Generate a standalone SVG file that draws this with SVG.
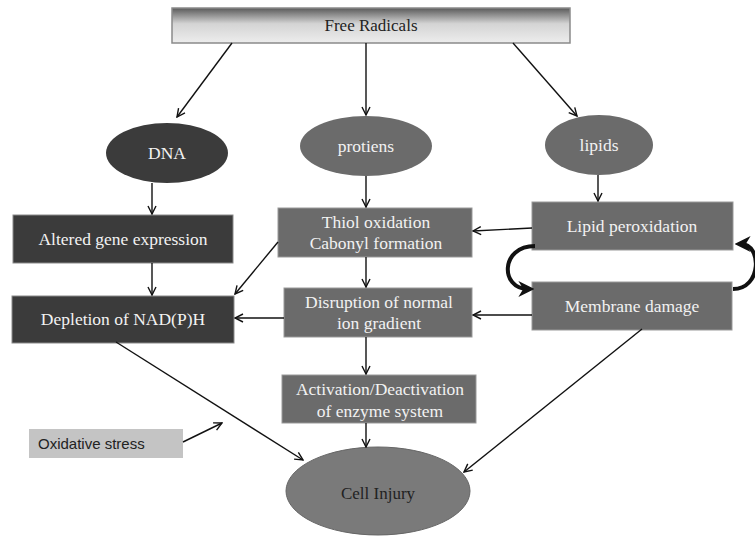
<svg xmlns="http://www.w3.org/2000/svg" width="755" height="536" viewBox="0 0 755 536">
<defs>
<linearGradient id="frg" x1="0" y1="0" x2="0" y2="1">
<stop offset="0" stop-color="#5a5a5a"/>
<stop offset="0.45" stop-color="#d4d4d4"/>
<stop offset="1" stop-color="#ededed"/>
</linearGradient>
<marker id="ah" viewBox="0 0 10 10" refX="9" refY="5" markerWidth="10" markerHeight="10" markerUnits="userSpaceOnUse" orient="auto">
<path d="M1,1 L9,5 L1,9" fill="none" stroke="#111" stroke-width="1.4"/>
</marker>
<marker id="thk" viewBox="0 0 10 10" refX="6" refY="5" markerWidth="4" markerHeight="4" orient="auto">
<path d="M0,0 L10,5 L0,10 L3,5 Z" fill="#111"/>
</marker>
</defs>
<style>
.dark{fill:#3b3b3b;stroke:#8a8a8a;stroke-width:1}
.mid{fill:#6b6b6b;stroke:#999;stroke-width:1}
.lt{font-family:"Liberation Serif","Times New Roman",serif;font-size:17.5px;fill:#f2f2f2;text-anchor:middle}
.dt{font-family:"Liberation Serif","Times New Roman",serif;font-size:17px;fill:#222;text-anchor:middle}
.c line{stroke:#111;stroke-width:1.4;fill:none;marker-end:url(#ah)}
.c path.k{stroke:#111;stroke-width:4;fill:none;marker-end:url(#thk)}
</style>
<rect width="755" height="536" fill="#fff"/>
<g id="free-radicals">
<rect x="172" y="8" width="398" height="35" fill="url(#frg)" stroke="#8a8a8a" stroke-width="1.5"/>
<text class="dt" x="371" y="31" font-size="16.5">Free Radicals</text>
</g>
<g id="dna">
<ellipse cx="167" cy="153" rx="61" ry="30" fill="#3b3b3b"/>
<text class="lt" x="167" y="159">DNA</text>
</g>
<g id="protiens">
<ellipse cx="366" cy="146" rx="66" ry="30" fill="#6b6b6b"/>
<text class="lt" x="366" y="152">protiens</text>
</g>
<g id="lipids">
<ellipse cx="599" cy="145" rx="54" ry="30" fill="#6b6b6b"/>
<text class="lt" x="599" y="151">lipids</text>
</g>
<g id="altered">
<rect class="dark" x="13" y="215" width="220" height="48"/>
<text class="lt" x="123" y="245">Altered gene expression</text>
</g>
<g id="depletion">
<rect class="dark" x="12" y="296" width="222" height="47"/>
<text class="lt" x="123" y="325">Depletion of NAD(P)H</text>
</g>
<g id="thiol">
<rect class="mid" x="278" y="208" width="194" height="49"/>
<text class="lt" x="376" y="228">Thiol oxidation</text>
<text class="lt" x="376" y="249">Cabonyl formation</text>
</g>
<g id="disruption">
<rect class="mid" x="284" y="288" width="188" height="49"/>
<text class="lt" x="379" y="308">Disruption of normal</text>
<text class="lt" x="379" y="329">ion gradient</text>
</g>
<g id="activation">
<rect class="mid" x="282" y="375" width="194" height="48"/>
<text class="lt" x="380" y="395">Activation/Deactivation</text>
<text class="lt" x="380" y="417">of enzyme system</text>
</g>
<g id="lipid-peroxidation">
<rect class="mid" x="532" y="202" width="201" height="48"/>
<text class="lt" x="632" y="232">Lipid peroxidation</text>
</g>
<g id="membrane-damage">
<rect class="mid" x="532" y="282" width="200" height="48"/>
<text class="lt" x="632" y="312">Membrane damage</text>
</g>
<g id="oxidative-stress">
<rect x="29" y="429" width="154" height="29" fill="#c4c4c4"/>
<text x="38" y="449" font-family="'Liberation Sans Narrow','Liberation Sans',Arial,sans-serif" font-size="15" fill="#222">Oxidative stress</text>
</g>
<g id="cell-injury">
<ellipse cx="378" cy="491" rx="92" ry="44" fill="#7a7a7a" stroke="#666" stroke-width="1"/>
<text class="dt" x="378" y="499">Cell Injury</text>
</g>
<g id="connectors" class="c">
<line x1="232" y1="43" x2="177" y2="117"/>
<line x1="366" y1="43" x2="366" y2="115"/>
<line x1="513" y1="43" x2="577" y2="116"/>
<line x1="152" y1="183" x2="152" y2="214"/>
<line x1="152" y1="263" x2="152" y2="295"/>
<line x1="366" y1="176" x2="366" y2="207"/>
<line x1="366" y1="257" x2="366" y2="287"/>
<line x1="366" y1="337" x2="366" y2="374"/>
<line x1="366" y1="423" x2="366" y2="447"/>
<line x1="598" y1="175" x2="598" y2="201"/>
<line x1="532" y1="228" x2="473" y2="231"/>
<line x1="532" y1="315" x2="473" y2="315"/>
<line x1="278" y1="242" x2="235" y2="294"/>
<line x1="284" y1="318" x2="235" y2="318"/>
<line x1="116" y1="342" x2="303" y2="460"/>
<line x1="642" y1="329" x2="464" y2="472"/>
<line x1="183" y1="442" x2="222" y2="423"/>
<path class="k" d="M535,246 C500,246 500,289 528,289"/>
<path class="k" d="M733,289 C762,289 762,244 741,244"/>
</g>
</svg>
